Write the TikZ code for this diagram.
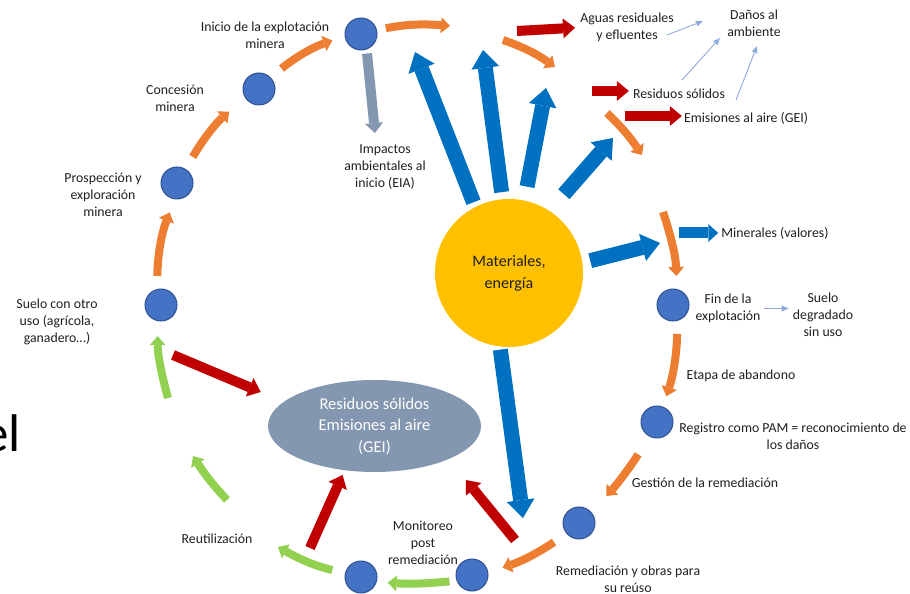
\documentclass[tikz,border=0pt]{standalone}
\usepackage{fontspec}
\setmainfont{Carlito}
\usetikzlibrary{arrows.meta,shapes.geometric}
\definecolor{naranja}{HTML}{ED7D31}
\definecolor{verde}{HTML}{92D050}
\definecolor{rojo}{HTML}{C00000}
\definecolor{azul}{HTML}{0070C0}
\definecolor{etapaazul}{HTML}{4472C4}
\definecolor{etapaborde}{HTML}{2F528F}
\definecolor{celeste}{HTML}{8FAADC}
\definecolor{gris}{HTML}{8497B0}
\definecolor{amarillo}{HTML}{FFC000}
\definecolor{texto}{HTML}{1F1F1F}

\begin{document}
\begin{tikzpicture}[x=1pt, y=1pt,
etapa/.style={circle, fill=etapaazul, draw=etapaborde, line width=1pt, minimum size=32pt, inner sep=0},
rotulo/.style={font=\fontsize{13.8}{17}\selectfont, text=texto, align=center, inner sep=1pt},
flechaciclo/.style={draw=naranja, line width=8pt, -{Triangle[length=9pt, width=16pt, line width=0pt]}},
flechaverde/.style={draw=verde, line width=8pt, -{Triangle[length=9pt, width=16pt, line width=0pt]}},
flechamat/.style={draw=azul, line width=15pt, -{Triangle[length=18pt, width=28pt, line width=0pt]}},
flechamin/.style={draw=azul, line width=11pt, -{Triangle[length=10pt, width=18pt, line width=0pt]}},
flecharoja/.style={draw=rojo, line width=10pt, -{Triangle[length=12pt, width=20pt, line width=0pt]}},
flechagris/.style={draw=gris, line width=10pt, -{Triangle[length=10pt, width=18pt, line width=0pt]}},
flechafina/.style={draw=celeste, line width=0.9pt, -{Triangle[length=7pt, width=6pt, line width=0pt]}},
]

%%%%%%%%%%%%%%%%%%%%%%%% MARCO %%%%%%%%%%%%%%%%%%%%%%%%%%%
\path[use as bounding box] (0,0) rectangle (910,594);
\clip (0,0) rectangle (910,594);

\node[anchor=base west, inner sep=0, font=\fontsize{53}{53}\selectfont, text=black] (el) at (-18,142) {el};

%%%%%%%%%%%%%%%%%%%%%%%% CENTRO %%%%%%%%%%%%%%%%%%%%%%%%%%%
\node[circle, fill=amarillo, minimum size=148pt, inner sep=0, font=\fontsize{16}{22}\selectfont, text=texto, align=center] (mat) at (509,321) {Materiales,\\energía};
\node[ellipse, fill=gris, minimum width=213pt, minimum height=92pt, inner sep=0, font=\fontsize{16.5}{21.5}\selectfont, text=white, align=center] (gei) at (374.5,168) {Residuos sólidos\\Emisiones al aire\\(GEI)};

%%%%%%%%%%%%%%%%%%%%%%%% ETAPAS %%%%%%%%%%%%%%%%%%%%%%%%%%%
\node[etapa] (ini) at (361,560) {};
\node[etapa] (conc) at (259,505) {};
\node[etapa] (prosp) at (177,411) {};
\node[etapa] (suelo) at (161,289) {};
\node[etapa] (fin) at (673,289) {};
\node[etapa] (reg) at (657,172) {};
\node[etapa] (remed) at (579,71) {};
\node[etapa] (monit) at (472,19) {};
\node[etapa] (reut) at (361,17) {};

%%%%%%%%%%%%%%%%%%%%%%%% ROTULOS %%%%%%%%%%%%%%%%%%%%%%%%%%%
\node[rotulo] (inilbl) at (265,558.5) {Inicio de la explotación\\minera};
\node[rotulo] (conclbl) at (175,496) {Concesión\\minera};
\node[rotulo] (prosplbl) at (103,399) {Prospección y\\exploración\\minera};
\node[rotulo] (suelolbl) at (57,272) {Suelo con otro\\uso (agrícola,\\ganadero…)};
\node[rotulo] (imp) at (385,427) {Impactos\\ambientales al\\inicio (EIA)};
\node[rotulo] (aguas) at (627,566.5) {Aguas residuales\\y efluentes};
\node[rotulo] (danos) at (754,570.5) {Daños al\\ambiente};
\node[rotulo] (res) at (679,500) {Residuos sólidos};
\node[rotulo] (emis) at (746,476) {Emisiones al aire (GEI)};
\node[rotulo] (miner) at (775,361) {Minerales (valores)};
\node[rotulo] (finlbl) at (728,285.5) {Fin de la\\explotación};
\node[rotulo] (degr) at (823,279.5) {Suelo\\degradado\\sin uso};
\node[rotulo] (aband) at (741,218) {Etapa de abandono};
\node[rotulo] (reglbl) at (793,157.5) {Registro como PAM = reconocimiento de\\los daños};
\node[rotulo] (gest) at (705,111) {Gestión de la remediación};
\node[rotulo] (remlbl) at (628,15) {Remediación y obras para\\su reúso};
\node[rotulo] (monlbl) at (423,51) {Monitoreo\\post\\remediación};
\node[rotulo] (reutlbl) at (217,55) {Reutilización};

%%%%%%%%%%%%%%%%%%%%%%%% CICLO %%%%%%%%%%%%%%%%%%%%%%%%%%%
\coordinate (o1e) at (450,568);
\coordinate (o2s) at (503,554);
\coordinate (o2e) at (555,527);
\coordinate (o3s) at (607,481);
\coordinate (o3e) at (642,439);
\coordinate (o4s) at (663,382);
\coordinate (g2e) at (278,47);
\coordinate (g3s) at (227,94);
\coordinate (g3e) at (193,138);
\coordinate (g4s) at (168,196);

\draw[flechaciclo, shorten <=13pt, shorten >=14pt] (suelo.104) to[bend left=10] (prosp.262);
\draw[flechaciclo, shorten <=14pt, shorten >=21pt] (prosp.58) to[bend left=10] (conc.214);
\draw[flechaciclo, shorten <=14pt, shorten >=13pt] (conc.45) to[bend left=10] (ini.188);
\draw[flechaciclo, shorten <=9pt] (ini.14) to[bend left=8] (o1e);
\draw[flechaciclo] (o2s) to[bend left=8] (o2e);
\draw[flechaciclo] (o3s) to[bend left=6] (o3e);
\draw[flechaciclo, shorten >=13pt] (o4s) to[bend left=8] (fin.76);
\draw[flechaciclo, shorten <=13pt, shorten >=11pt] (fin.286) to[bend left=8] (reg.68);
\draw[flechaciclo, shorten <=21pt, shorten >=22pt] (reg.243) to[bend left=5] (remed.41);
\draw[flechaciclo, shorten <=15pt, shorten >=15pt] (remed.220) to[bend left=8] (monit.9);

\draw[flechaverde, shorten <=7pt, shorten >=11pt] (monit.200) to[bend left=5] (reut.343);
\draw[flechaverde, shorten <=13pt] (reut.166) to[bend left=8] (g2e);
\draw[flechaverde] (g3s) to[bend left=5] (g3e);
\draw[flechaverde, shorten >=15pt] (g4s) to[bend left=8] (suelo.259);

%%%%%%%%%%%%%%%%%%%%%%%% MATERIALES %%%%%%%%%%%%%%%%%%%%%%%%%%%
\coordinate (b1e) at (415,542);
\coordinate (b2e) at (483,544);
\coordinate (b3e) at (546,506);
\coordinate (b4e) at (613,456);
\coordinate (b5e) at (660,351);
\coordinate (b6e) at (523,76);
\coordinate (b7s) at (679,361);

\draw[flechamat, shorten <=5pt] (mat.117) -- (b1e);
\draw[flechamat, shorten <=7pt] (mat.95) -- (b2e);
\draw[flechamat, shorten <=14pt] (mat.78) -- (b3e);
\draw[flechamat, shorten <=22pt] (mat.57) -- (b4e);
\draw[flechamat, shorten <=8pt] (mat.8) -- (b5e);
\draw[flechamat, shorten <=3pt] (mat.263) -- (b6e);
\draw[flechamin, shorten >=2pt] (b7s) -- (b7s -| miner.west);

%%%%%%%%%%%%%%%%%%%%%%%% RESIDUOS %%%%%%%%%%%%%%%%%%%%%%%%%%%
\coordinate (r1s) at (173,239);
\coordinate (r2s) at (310,46);
\coordinate (r3s) at (515,54);
\coordinate (r4s) at (517,563);
\coordinate (r5s) at (592,503);
\coordinate (r6s) at (625,478);

\draw[flecharoja, shorten >=25pt] (r1s) -- (gei.165);
\draw[flecharoja, shorten >=5pt] (r2s) -- (gei.236);
\draw[flecharoja, shorten >=27pt] (r3s) -- (gei.336);
\draw[flecharoja, shorten >=4pt] (r4s) -- (aguas.west);
\draw[flecharoja, shorten >=3pt] (r5s) -- (r5s -| res.west);
\draw[flecharoja, shorten >=1pt] (r6s) -- (r6s -| emis.west);

%%%%%%%%%%%%%%%%%%%%%%%% IMPACTOS %%%%%%%%%%%%%%%%%%%%%%%%%%%
\coordinate (grise) at (375,461);
\draw[flechagris, shorten <=4pt] (ini.290) -- (grise);

\coordinate (lb1s) at (667,559);
\coordinate (lb1e) at (703,573);
\coordinate (lb2s) at (682,514);
\coordinate (lb2e) at (720,556);
\coordinate (lb3s) at (736,494);
\coordinate (lb3e) at (757,548);
\draw[flechafina] (lb1s) -- (lb1e);
\draw[flechafina] (lb2s) -- (lb2e);
\draw[flechafina] (lb3s) -- (lb3e);
\draw[flechafina, shorten <=2pt, shorten >=3pt] (finlbl.east) -- (finlbl.east -| degr.west);

\end{tikzpicture}
\end{document}
